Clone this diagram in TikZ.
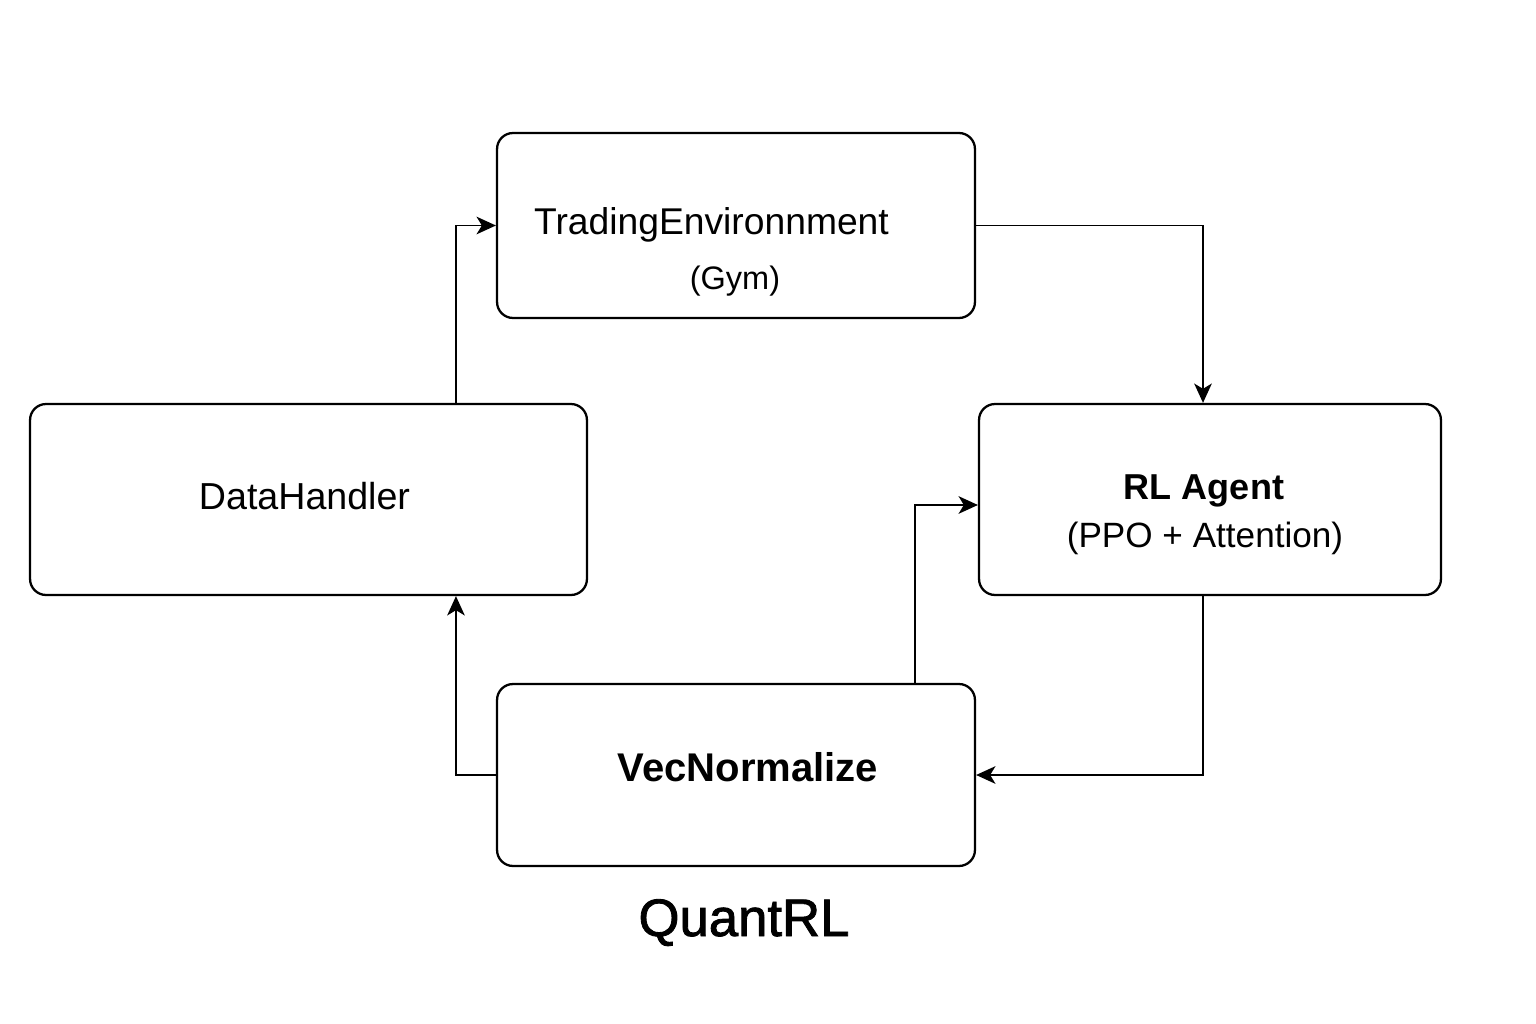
\documentclass[tikz,border=0pt]{standalone}
\usepackage{fontspec}
\setmainfont{Liberation Sans}
\newfontfamily\titlefont{Liberation Sans}[FakeBold=1.6]
\usetikzlibrary{arrows.meta}

\begin{document}
\begin{tikzpicture}[x=0.02cm,y=-0.02cm]
\tikzset{box/.style = {shape=rectangle,draw,rounded corners=0.32cm,line width=1.3pt}}
\tikzset{edge/.style = {-{Stealth[length=11pt,width=10pt,inset=3pt]},line width=1.1pt}}
\tikzset{lbl/.style = {anchor=base,inner sep=0pt}}
\useasboundingbox (0,0) rectangle (1536,1024);
%boxes
\node[box,minimum width=9.56cm,minimum height=3.7cm] (env) at (736,225.5) {};
\node[box,minimum width=11.14cm,minimum height=3.82cm] (data) at (308.5,499.5) {};
\node[box,minimum width=9.24cm,minimum height=3.82cm] (agent) at (1210,499.5) {};
\node[box,minimum width=9.56cm,minimum height=3.64cm] (vec) at (736,775) {};
%labels
\node[lbl,font=\fontsize{21.2}{25}\selectfont] (envname) at (711.5,235) {TradingEnvironnment};
\node[lbl,font=\fontsize{18.5}{22}\selectfont] (envsub) at (735,289) {(Gym)};
\node[lbl,font=\fontsize{21.4}{25}\selectfont] (dataname) at (304.5,509) {DataHandler};
\node[lbl,font=\bfseries\fontsize{20.5}{24}\selectfont] (agentname) at (1204,499) {RL Agent};
\node[lbl,font=\fontsize{20}{24}\selectfont] (agentsub) at (1205,547) {(PPO + Attention)};
\node[lbl,font=\bfseries\fontsize{22.8}{27}\selectfont] (vecname) at (748,781) {VecNormalize};
\node[lbl,font=\titlefont\fontsize{30}{36}\selectfont] (title) at (744,936) {QuantRL};
%connectors
\draw[edge] ([xshift=2.95cm]data.north) |- (env.west);
\draw[edge] (env.east) -| ([xshift=-0.14cm]agent.north);
\draw[edge] ([xshift=-0.14cm]agent.south) |- (vec.east);
\draw[edge] (vec.west) -| ([xshift=2.95cm]data.south);
\draw[edge] ([xshift=3.58cm]vec.north) |- ([yshift=-0.11cm]agent.west);
\end{tikzpicture}
\end{document}
